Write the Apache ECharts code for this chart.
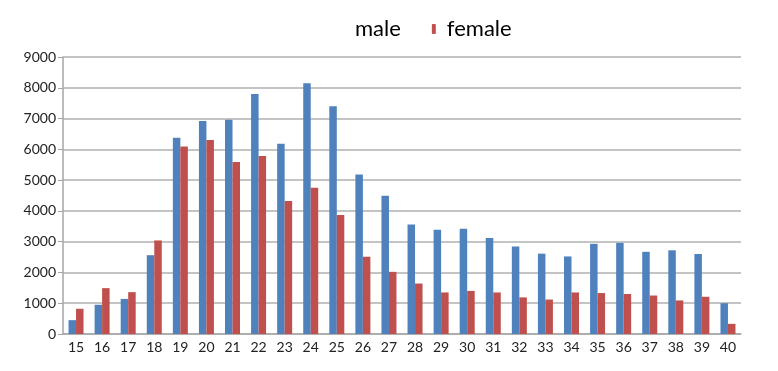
<!DOCTYPE html>
<html><head><meta charset="utf-8">
<script src="https://cdn.jsdelivr.net/npm/echarts@6/dist/echarts.min.js"></script>
<style>html,body{margin:0;padding:0;background:#fff}#c{width:778px;height:371px}</style>
</head><body><div id="c"></div>
<script>
const ages = ['15','16','17','18','19','20','21','22','23','24','25','26','27','28','29','30','31','32','33','34','35','36','37','38','39','40'];
const male = [450,950,1140,2560,6380,6920,6960,7800,6180,8150,7400,5180,4490,3560,3390,3420,3120,2840,2610,2520,2930,2960,2670,2720,2600,1000];
const female = [820,1490,1360,3040,6090,6300,5590,5780,4320,4750,3870,2510,2020,1640,1350,1400,1350,1190,1120,1350,1330,1300,1250,1090,1210,330];
const yTicks = {min:0, max:9000, interval:1000};

const chart = echarts.init(document.getElementById('c'));
const font = 'Lato, "Open Sans", sans-serif';
chart.setOption({
  animation:false,
  grid:{left:63,right:37,top:57,bottom:37},
  legend:{
    left:335, top:13, itemWidth:4, itemHeight:10, itemGap:31,
    textStyle:{fontFamily:font,fontSize:22,color:'#000',padding:[0,0,0,6]},
    data:[{name:'male',itemStyle:{opacity:0}},{name:'female'}]
  },
  xAxis:{
    type:'category', data:ages,
    axisLine:{lineStyle:{color:'#a6a6a6',width:1.5}},
    axisTick:{show:false},
    axisLabel:{fontFamily:font,fontSize:14,color:'#222',margin:6}
  },
  yAxis:{
    type:'value', min:yTicks.min, max:yTicks.max, interval:yTicks.interval,
    axisLine:{show:true,lineStyle:{color:'#a6a6a6',width:1.5}},
    axisTick:{show:true,length:5,lineStyle:{color:'#a6a6a6'}},
    splitLine:{lineStyle:{color:'#b0b0b0',width:1.5}},
    axisLabel:{fontFamily:font,fontSize:14,color:'#222',margin:7,formatter:v=>String(v)}
  },
  series:[
    {name:'male',type:'bar',data:male,barWidth:7.5,barGap:'0%',itemStyle:{color:'#4F81BD'}},
    {name:'female',type:'bar',data:female,barWidth:7.5,barGap:'0%',itemStyle:{color:'#C0504D'}}
  ]
});
</script></body></html>
